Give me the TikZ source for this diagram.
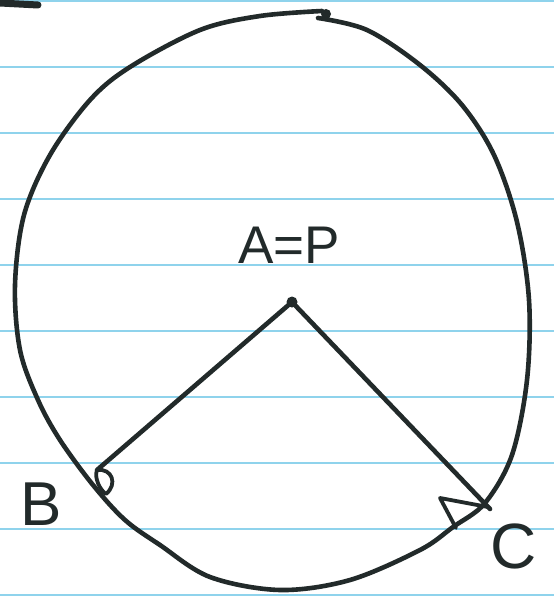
\documentclass[tikz,border=0pt]{standalone}
\usepackage{fontspec}
\setmainfont{Liberation Sans}
\definecolor{ink}{HTML}{222A2A}
\definecolor{rule}{HTML}{8FD3EC}
\tikzset{
  ruling/.style={draw=rule, line width=2pt},
  pen/.style={draw=ink, line width=4.6pt, line cap=round, line join=round},
  lbl/.style={text=ink, inner sep=0pt, anchor=base west}
}
\begin{document}
\begin{tikzpicture}[x=1pt,y=-1pt]
\fill[white] (0,0) rectangle (554,599);
\useasboundingbox (0,0) rectangle (554,599);
% ruled paper
\foreach \yy in {1,67,133,199,265,331,397,463,529,595}
  \draw[ruling] (0,\yy) -- (554,\yy);
% top-left mark
\draw[pen, line width=7pt] (0,3) -- (38,5);
% circle
\draw[pen] plot[smooth, tension=0.55] coordinates {
 (318,18) (367,30) (420,65) (462,105) (494,155) (517,222) (529,300)
 (527,380) (512,455) (485,503) (453,527) (420,550) (350,580) (280,590)
 (210,577) (160,545) (125,520) (93,485) (60,440) (38,400) (20,350)
 (15,285) (24,215) (50,155) (90,100) (130,67) (200,30) (260,16) (322,11)};
\fill[ink] (326,14) circle (5pt);
% points
\coordinate (A) at (292,302);
\coordinate (B) at (97,470);
\coordinate (C) at (490,509);
\fill[ink] (A) circle (5.5pt);
\draw[pen] (B) -- (A) -- (C);
% right-angle marks
\draw[pen, line width=3.8pt] (97,470) .. controls (112,468) and (118,484) .. (106,494)
   .. controls (100,490) and (94,478) .. (97,470);
\draw[pen, line width=3.8pt] (456,528) -- (440,498) -- (488,507);
% labels
\node[lbl, font=\fontsize{53}{60}\selectfont] (lblA) at (238,263) {A=P};
\node[lbl, font=\fontsize{62}{70}\selectfont] (lblB) at (20,525) {B};
\node[lbl, font=\fontsize{64}{70}\selectfont] (lblC) at (490,568) {C};
\end{tikzpicture}
\end{document}
